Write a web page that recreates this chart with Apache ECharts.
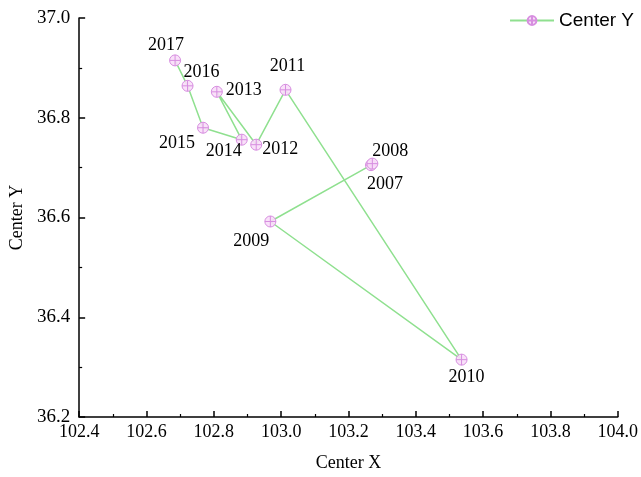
<!DOCTYPE html>
<html>
<head>
<meta charset="utf-8">
<script src="https://cdn.jsdelivr.net/npm/echarts@6/dist/echarts.min.js"></script>
<style>
  html, body { margin: 0; padding: 0; background: #fff; }
  #chart { width: 641px; height: 477px; }
</style>
</head>
<body>
<div id="chart"></div>
<script>
// Yearly centre positions of the distribution
const years   = ['2007', '2008', '2009', '2010', '2011', '2012', '2013', '2014', '2015', '2016', '2017'];
const centerX = [103.267, 103.271, 102.968, 103.536, 103.013, 102.926, 102.809, 102.883, 102.768, 102.722, 102.685];
const centerY = [36.705, 36.708, 36.592, 36.315, 36.856, 36.746, 36.852, 36.756, 36.780, 36.864, 36.915];

// Axis ranges and tick labels
const xTicks = [102.4, 102.6, 102.8, 103.0, 103.2, 103.4, 103.6, 103.8, 104.0];
const yTicks = [36.2, 36.4, 36.6, 36.8, 37.0];

// Where each year's label sits relative to its marker (dx, dy in px)
const labelOffsets = {
  '2007': [14, 19], '2008': [18, -12], '2009': [-19, 20], '2010': [5, 18],
  '2011': [2, -24], '2012': [24, 5], '2013': [27, -2], '2014': [-18, 12],
  '2015': [-26, 16], '2016': [14, -14], '2017': [-9, -15]
};

const markerPath = 'path://M0,-10A10,10 0 1,1 0,10A10,10 0 1,1 0,-10Z M-10,0L10,0 M0,-10L0,10';

const points = years.map((yr, i) => [centerX[i], centerY[i], yr]);

const serif = 'Liberation Serif';
const chart = echarts.init(document.getElementById('chart'), null, { renderer: 'canvas' });

chart.setOption({
  animation: false,
  backgroundColor: '#fff',
  grid: { left: 79, right: 20, top: 18, bottom: 56, containLabel: false },
  legend: {
    right: 2, top: 6,
    itemWidth: 44, itemHeight: 11,
    textStyle: { fontFamily: 'Liberation Sans', fontSize: 19, color: '#000' },
    data: ['Center Y']
  },
  xAxis: {
    type: 'value',
    min: xTicks[0], max: xTicks[xTicks.length - 1], interval: 0.2,
    name: 'Center X', nameLocation: 'middle', nameGap: 37,
    nameTextStyle: { fontFamily: serif, fontSize: 18, color: '#000' },
    axisLine: { show: true, lineStyle: { color: '#000', width: 1.5 } },
    axisTick: { show: true, inside: true, length: 6, lineStyle: { color: '#000', width: 1.5 } },
    minorTick: { show: true, splitNumber: 2, length: 3, lineStyle: { color: '#000', width: 1.2 } },
    splitLine: { show: false },
    axisLabel: {
      fontFamily: serif, fontSize: 18, color: '#000', margin: 6,
      formatter: v => v.toFixed(1)
    }
  },
  yAxis: {
    type: 'value',
    min: yTicks[0], max: yTicks[yTicks.length - 1], interval: 0.2,
    name: 'Center Y', nameLocation: 'middle', nameGap: 52, nameRotate: 90,
    nameTextStyle: { fontFamily: serif, fontSize: 18, color: '#000' },
    axisLine: { show: true, lineStyle: { color: '#000', width: 1.5 } },
    axisTick: { show: true, inside: true, length: 6, lineStyle: { color: '#000', width: 1.5 } },
    minorTick: { show: true, splitNumber: 2, length: 3, lineStyle: { color: '#000', width: 1.2 } },
    splitLine: { show: false },
    axisLabel: {
      fontFamily: serif, fontSize: 19, color: '#000', margin: 9,
      formatter: v => v.toFixed(1)
    }
  },
  series: [{
    name: 'Center Y',
    type: 'line',
    data: points,
    symbol: markerPath,
    symbolSize: 11,
    lineStyle: { color: '#8fe08f', width: 1.5 },
    itemStyle: { color: 'rgba(248,222,248,0.9)', borderColor: '#d78ee0', borderWidth: 1 },
    label: {
      show: true, position: 'inside',
      formatter: p => p.value[2],
      fontFamily: serif, fontSize: 18, color: '#000'
    },
    labelLayout: p => {
      const off = labelOffsets[years[p.dataIndex]];
      return { dx: off[0], dy: off[1], hideOverlap: false };
    },
    emphasis: { disabled: true }
  }]
});
</script>
</body>
</html>
